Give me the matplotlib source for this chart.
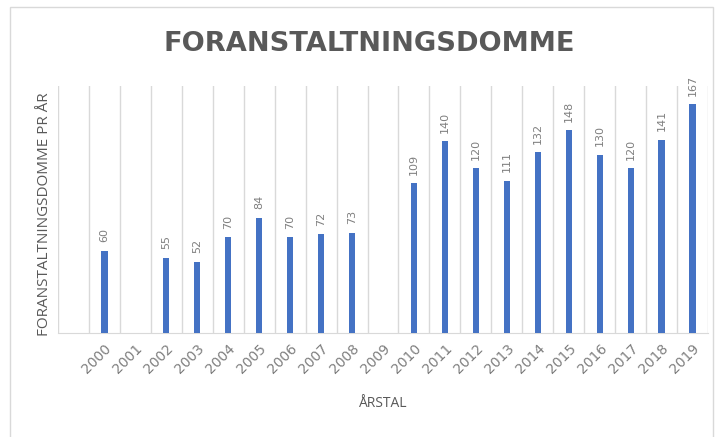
import matplotlib
matplotlib.use("Agg")
import matplotlib.pyplot as plt
from matplotlib.patches import Rectangle

plt.rcParams['font.family'] = ['Open Sans', 'DejaVu Sans']

years = [str(y) for y in range(2000, 2020)]
values = [60, None, 55, 52, 70, 84, 70, 72, 73, None,
          109, 140, 120, 111, 132, 148, 130, 120, 141, 167]

grey = '#595959'
light_grey = '#7F7F7F'
bar_col = '#4472C4'
grid_col = '#D9D9D9'

fig = plt.figure(figsize=(7.2, 4.37), dpi=100)
fig.patches.append(Rectangle((10 / 720, -0.01), 703 / 720, 1 - 7 / 437 + 0.01,
                             transform=fig.transFigure, fill=False,
                             edgecolor=grid_col, linewidth=1))

ax = fig.add_axes([58 / 720, 1 - 333 / 437, 650 / 720, 247 / 437])

xs = [i for i, v in enumerate(values) if v is not None]
hs = [v for v in values if v is not None]
bars = ax.bar(xs, hs, width=0.2, color=bar_col, zorder=3)

for b, h in zip(bars, hs):
    ax.annotate(str(h), (b.get_x() + b.get_width() / 2, h), xytext=(0, 6),
                textcoords='offset points', rotation=90, ha='center', va='bottom',
                fontsize=8, color=light_grey, family='DejaVu Sans')

ax.set_xlim(-1.5, 19.5)
ax.set_ylim(0, 180)
ax.set_xticks(range(len(years)))
ax.set_xticklabels(years, rotation=45, ha='right', rotation_mode='anchor',
                   fontsize=10, color=light_grey, family='DejaVu Sans')
ax.tick_params(axis='x', length=0, pad=6)
ax.set_yticks([])

for k in range(-1, 20):
    ax.axvline(k + 0.5, color=grid_col, linewidth=1, zorder=1)
ax.axvline(-1.5, color=grid_col, linewidth=1, zorder=1)

for s in ['top', 'right', 'left']:
    ax.spines[s].set_visible(False)
ax.spines['bottom'].set_color(grid_col)

ax.set_ylabel('FORANSTALTNINGSDOMME PR ÅR', fontsize=11, color=grey)
ax.yaxis.set_label_coords(-0.01, 0.48)
ax.set_xlabel('ÅRSTAL', fontsize=10, color=grey, labelpad=14)

fig.text(369 / 720, 1 - 44 / 437, 'FORANSTALTNINGSDOMME', ha='center', va='center',
         fontsize=19.6, fontweight='bold', color=grey, family='DejaVu Sans')

fig.savefig('out.png', dpi=100)
